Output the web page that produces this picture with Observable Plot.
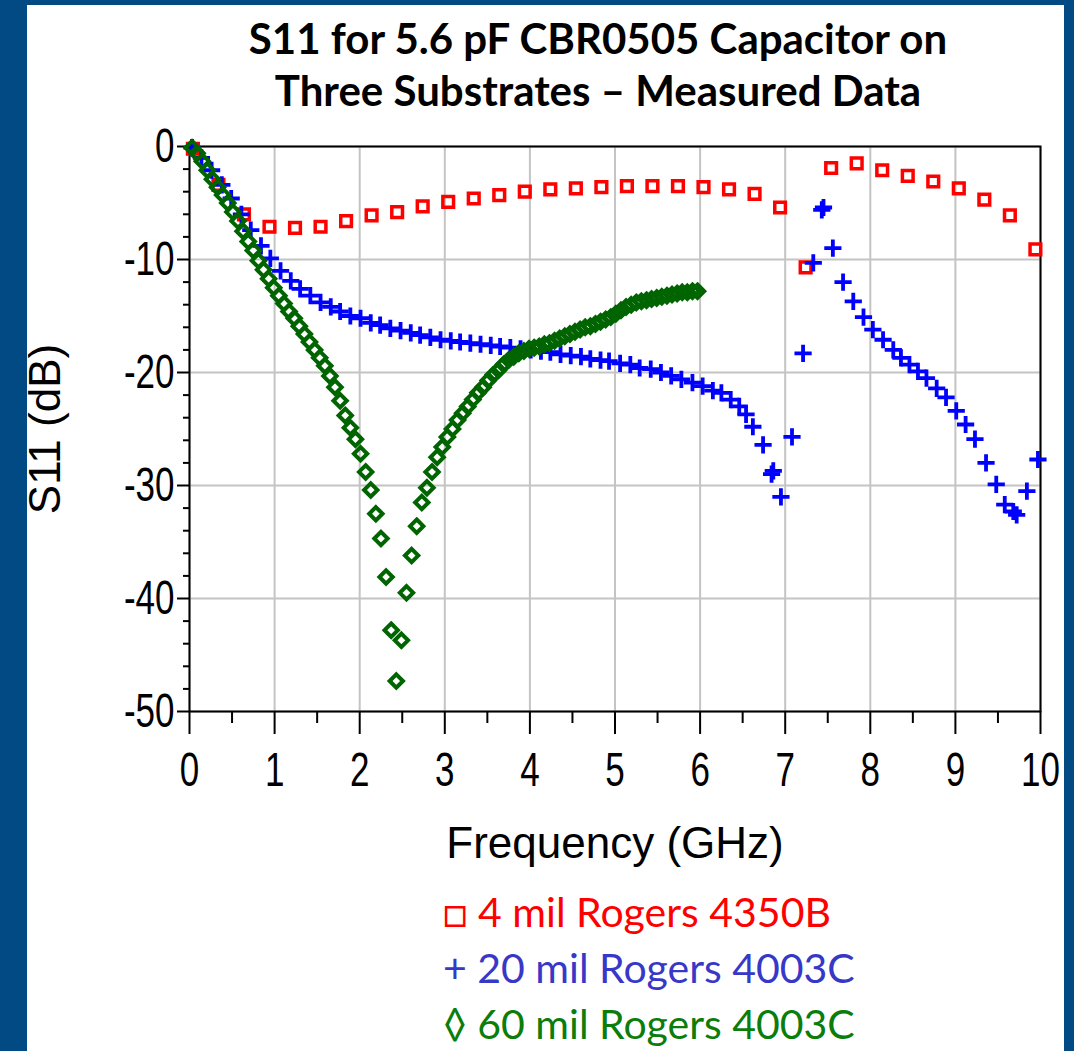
<!DOCTYPE html>
<html>
<head>
<meta charset="utf-8">
<script src="https://cdn.jsdelivr.net/npm/d3@7"></script>
<script src="https://cdn.jsdelivr.net/npm/@observablehq/plot@0.6"></script>
<style>
  html, body { margin: 0; padding: 0; background: #fff; }
  #page { position: relative; width: 1074px; height: 1051px; background: #fff; overflow: hidden; }
  .bar { position: absolute; background: #024a83; }
  #title { position: absolute; left: 98px; width: 1000px; top: 12px; text-align: center;
           font-family: Lato, "Open Sans", sans-serif; font-weight: 700; font-size: 42px; line-height: 52px; color: #000; }
  #chart { position: absolute; left: 0; top: 120px; }
  #legend { position: absolute; left: 443px; top: 884px; font-family: Lato, "Open Sans", sans-serif;
            font-size: 41px; line-height: 56px; white-space: nowrap; }
</style>
</head>
<body>
<div id="page">
  <div class="bar" style="left:0;top:0;width:27px;height:1051px"></div>
  <div class="bar" style="left:0;top:0;width:1074px;height:5px"></div>
  <div class="bar" style="left:1064px;top:0;width:10px;height:1051px"></div>
  <div id="title"></div>
  <div id="chart"></div>
  <div id="legend"></div>
</div>
<script>
// ---------------- data ----------------
const titleLines = ["S11 for 5.6 pF CBR0505 Capacitor on", "Three Substrates \u2013 Measured Data"];
const xLabel = "Frequency (GHz)";
const yLabel = "S11 (dB)";

const seriesNames = ["4 mil Rogers 4350B", "20 mil Rogers 4003C", "60 mil Rogers 4003C"];
const seriesGlyphs = ["\u25A1", "+", "\u25CA"];
const seriesColors = ["#ff0000", "#0000ff", "#006400"];
const legendColors = ["#ff0000", "#3838c8", "#0a7d0a"];

const xMajorTicks = [0, 1, 2, 3, 4, 5, 6, 7, 8, 9, 10];
const xMinorTicks = [0.5, 1.5, 2.5, 3.5, 4.5, 5.5, 6.5, 7.5, 8.5, 9.5];
const yMajorTicks = [0, -10, -20, -30, -40, -50];
const yMinorTicks = [-2, -4, -6, -8, -12, -14, -16, -18, -22, -24, -26, -28, -32, -34, -36, -38, -42, -44, -46, -48];

// 4 mil Rogers 4350B (red squares)
const redFreq = [0.04,0.34,0.64,0.94,1.24,1.54,1.84,2.14,2.44,2.74,3.04,3.34,3.64,3.94,4.24,4.54,4.84,5.14,5.44,5.74,6.04,6.34,6.64,6.94,7.24,7.54,7.84,8.14,8.44,8.74,9.04,9.34,9.64,9.94];
const redS11  = [-0.2,-3.4,-6.0,-7.1,-7.2,-7.1,-6.6,-6.1,-5.8,-5.3,-4.9,-4.6,-4.3,-4.0,-3.8,-3.7,-3.6,-3.5,-3.5,-3.5,-3.6,-3.8,-4.2,-5.4,-10.7,-1.9,-1.5,-2.1,-2.6,-3.1,-3.7,-4.7,-6.1,-9.1];

// 20 mil Rogers 4003C (blue plus)
const blueFreq = [0.03,0.14,0.26,0.38,0.49,0.61,0.72,0.84,0.95,1.07,
  1.19,1.30,1.42,1.54,1.66,1.77,1.89,2.01,2.13,2.24,
  2.36,2.48,2.60,2.71,2.83,2.95,3.07,3.18,3.30,3.42,
  3.54,3.65,3.77,3.89,4.01,4.13,4.24,4.36,4.48,4.60,
  4.71,4.83,4.93,5.06,5.18,5.29,5.42,5.54,5.66,5.78,
  5.91,6.03,6.15,6.25,6.36,6.46,6.54,6.62,6.74,6.84,
  6.86,6.95,7.08,7.21,7.33,7.43,7.45,7.56,7.68,7.80,
  7.92,8.03,8.15,8.27,8.36,8.46,8.56,8.66,8.78,8.89,
  9.01,9.12,9.23,9.36,9.48,9.58,9.68,9.72,9.84,9.97];
const blueS11 = [-0.1,-1.0,-2.1,-3.4,-4.6,-6.0,-7.4,-8.8,-9.9,-11.0,
  -11.9,-12.6,-13.2,-13.8,-14.2,-14.6,-15.0,-15.2,-15.6,-15.8,
  -16.1,-16.3,-16.5,-16.7,-16.9,-17.1,-17.2,-17.3,-17.4,-17.5,
  -17.6,-17.7,-17.8,-17.9,-18.0,-18.1,-18.2,-18.4,-18.5,-18.6,
  -18.8,-18.9,-19.0,-19.2,-19.3,-19.6,-19.7,-20.0,-20.3,-20.6,
  -20.9,-21.2,-21.6,-21.8,-22.4,-23.0,-23.7,-24.8,-26.4,-29.0,
  -28.7,-31.0,-25.7,-18.3,-10.3,-5.6,-5.4,-9.0,-12.0,-13.7,
  -15.1,-16.2,-17.1,-18.0,-18.7,-19.3,-19.9,-20.5,-21.4,-22.2,
  -23.4,-24.6,-25.9,-28.0,-29.9,-31.7,-32.3,-32.6,-30.5,-27.7];

// 60 mil Rogers 4003C (green diamonds)
const greenFreq = [0.03,0.09,0.15,0.21,0.27,0.33,0.39,0.45,0.51,0.57,
  0.63,0.69,0.75,0.81,0.87,0.93,0.99,1.05,1.11,1.17,
  1.23,1.29,1.35,1.41,1.47,1.53,1.59,1.65,1.71,1.77,
  1.83,1.89,1.95,2.01,2.07,2.13,2.19,2.25,2.31,2.37,
  2.43,2.49,2.55,2.61,2.67,2.73,2.79,2.85,2.91,2.97,
  3.03,3.09,3.15,3.21,3.27,3.33,3.39,3.45,3.51,3.57,
  3.63,3.69,3.75,3.81,3.87,3.93,3.99,4.05,4.11,4.17,
  4.23,4.29,4.35,4.41,4.47,4.53,4.59,4.65,4.71,4.77,
  4.83,4.89,4.95,5.01,5.07,5.13,5.19,5.25,5.31,5.37,
  5.43,5.49,5.55,5.61,5.67,5.73,5.79,5.85,5.91,5.97];
const greenS11 = [-0.1,-0.6,-1.3,-2.1,-2.9,-3.6,-4.3,-5.0,-5.8,-6.6,
  -7.5,-8.4,-9.2,-10.1,-10.9,-11.7,-12.5,-13.2,-13.9,-14.6,
  -15.2,-15.9,-16.6,-17.3,-18.0,-18.7,-19.4,-20.3,-21.3,-22.5,
  -23.8,-24.9,-25.9,-27.2,-28.8,-30.4,-32.5,-34.7,-38.1,-42.8,
  -47.3,-43.7,-39.5,-36.2,-33.6,-31.5,-30.2,-28.8,-27.5,-26.6,
  -25.7,-25.0,-24.2,-23.6,-23.0,-22.4,-21.8,-21.3,-20.7,-20.2,
  -19.8,-19.3,-18.9,-18.6,-18.3,-18.1,-17.9,-17.8,-17.7,-17.5,
  -17.4,-17.2,-17.0,-16.8,-16.6,-16.4,-16.2,-16.0,-15.9,-15.7,
  -15.5,-15.3,-15.1,-14.8,-14.5,-14.2,-14.0,-13.8,-13.7,-13.6,
  -13.5,-13.4,-13.3,-13.2,-13.1,-13.0,-12.9,-12.9,-12.8,-12.8];

// ---------------- build ----------------
const toRows = (fs, ss) => fs.map((f, i) => ({f, s: ss[i]}));
const red = toRows(redFreq, redS11);
const blue = toRows(blueFreq, blueS11);
const green = toRows(greenFreq, greenS11);

document.getElementById("title").innerHTML = titleLines.join("<br>");

const gridStyle = {stroke: "#c4c4c4", strokeOpacity: 1, strokeWidth: 2};

const chart = Plot.plot({
  width: 1074,
  height: 760,
  marginLeft: 189,
  marginRight: 34,
  marginTop: 26,
  marginBottom: 169,
  x: {domain: [0, 10]},
  y: {domain: [-50, 0]},
  style: {fontFamily: "'Liberation Sans', Arial, sans-serif", color: "#000", background: "transparent", overflow: "visible"},
  marks: [
    Plot.gridX(xMajorTicks, gridStyle),
    Plot.gridY(yMajorTicks, gridStyle),
    Plot.axisX(xMinorTicks, {tickSize: 12, strokeWidth: 2, tickFormat: () => "", label: null}),
    Plot.axisX(xMajorTicks, {tickSize: 23, strokeWidth: 2, tickPadding: 17, fontSize: 35, tickFormat: d => String(d), label: null}),
    Plot.axisY(yMinorTicks, {tickSize: 6, strokeWidth: 2, tickFormat: () => "", label: null}),
    Plot.axisY(yMajorTicks, {tickSize: 12, strokeWidth: 2, tickPadding: 3, fontSize: 35, tickFormat: d => String(d), label: null}),
    Plot.frame({stroke: "#000", strokeWidth: 2}),
    Plot.text([xLabel], {frameAnchor: "bottom", dy: 132, fontSize: 44, lineAnchor: "middle", fill: "#000"}),
    Plot.text([yLabel], {frameAnchor: "left", dx: -144, rotate: -90, fontSize: 44, textAnchor: "middle", lineAnchor: "middle", fill: "#000"}),
    Plot.dot(red, {x: "f", y: "s", symbol: "square2", r: 6.8, stroke: seriesColors[0], strokeWidth: 3.5, fill: "none"}),
    Plot.dot(blue, {x: "f", y: "s", symbol: "plus", r: 5.6, stroke: seriesColors[1], strokeWidth: 3.8, fill: "none"}),
    Plot.dot(green, {x: "f", y: "s", symbol: "diamond2", r: 6, stroke: seriesColors[2], strokeWidth: 4, fill: "none"})
  ]
});
document.getElementById("chart").appendChild(chart);

// tall, narrow tick numerals as in the reference
d3.select(chart).selectAll("g[aria-label='x-axis tick label'] text, g[aria-label='y-axis tick label'] text")
  .each(function() {
    const t = this.getAttribute("transform");
    if (t) {
      this.setAttribute("transform", t + " scale(1,1.38)");
    } else {
      const x = +this.getAttribute("x") || 0, y = +this.getAttribute("y") || 0;
      this.removeAttribute("x"); this.removeAttribute("y");
      this.setAttribute("transform", `translate(${x},${y}) scale(1,1.38)`);
    }
  });

const legend = document.getElementById("legend");
seriesNames.forEach((name, i) => {
  const div = document.createElement("div");
  div.style.color = legendColors[i];
  div.textContent = seriesGlyphs[i] + " " + name;
  legend.appendChild(div);
});
</script>
</body>
</html>
